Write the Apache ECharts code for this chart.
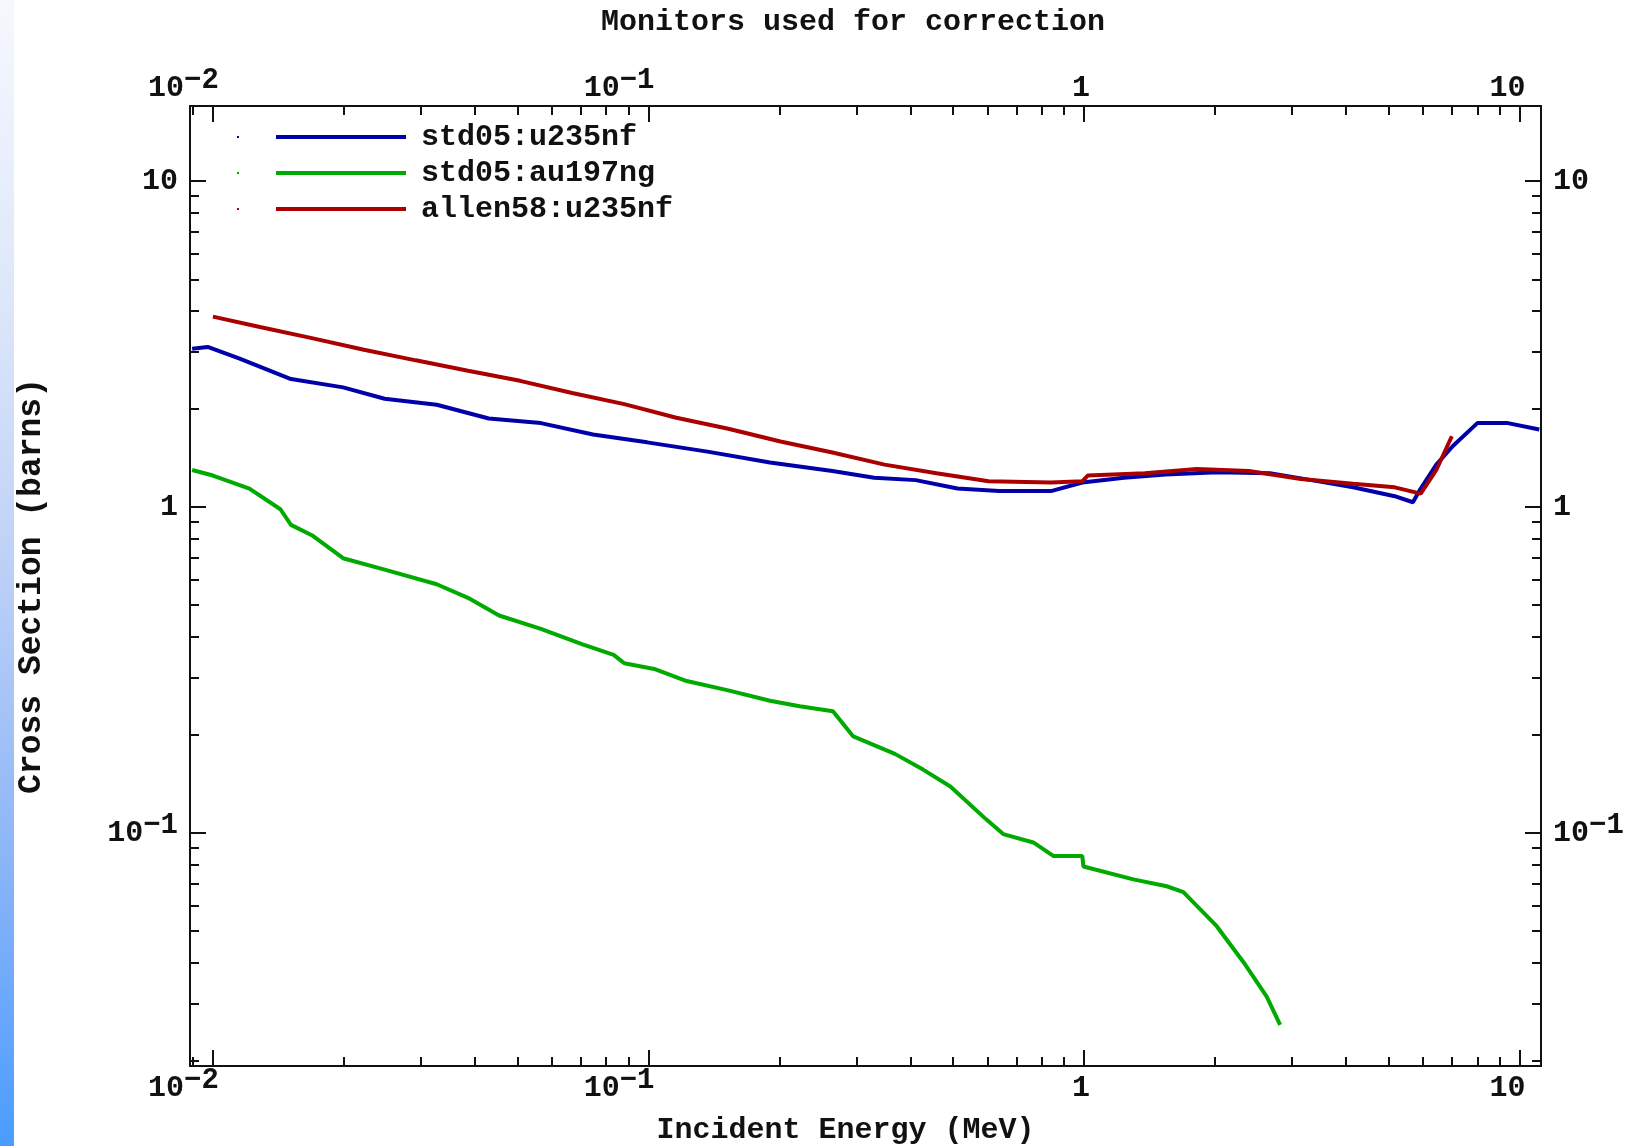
<!DOCTYPE html>
<html>
<head>
<meta charset="utf-8">
<title>Monitors used for correction</title>
<script src="https://cdn.jsdelivr.net/npm/echarts@6/dist/echarts.min.js"></script>
<style>
  html, body { margin: 0; padding: 0; background: #fff; }
  #main { width: 1632px; height: 1146px; }
</style>
</head>
<body>
<div id="main"></div>
<script>
// std05:u235nf
var u235E = [0.00896, 0.00973, 0.01148, 0.01511, 0.0199, 0.02479, 0.03265, 0.043, 0.05662, 0.0746, 0.0993, 0.1366, 0.1901, 0.2645, 0.3297, 0.4109, 0.5121, 0.6382, 0.84, 0.991, 1.235, 1.539, 2.027, 2.67, 3.327, 4.148, 5.169, 5.69, 5.93, 6.44, 7.03, 8.0, 9.4, 11.1]
var u235XS = [3.06, 3.10, 2.86, 2.47, 2.33, 2.15, 2.06, 1.87, 1.81, 1.67, 1.58, 1.48, 1.37, 1.29, 1.23, 1.21, 1.14, 1.12, 1.12, 1.19, 1.23, 1.26, 1.28, 1.27, 1.21, 1.15, 1.08, 1.035, 1.14, 1.35, 1.54, 1.81, 1.81, 1.73]

// std05:au197ng
var au197E = [0.00896, 0.01, 0.01213, 0.01429, 0.01511, 0.01687, 0.0199, 0.02479, 0.03265, 0.03851, 0.0454, 0.05662, 0.0706, 0.0832, 0.088, 0.1038, 0.1224, 0.1525, 0.1901, 0.2225, 0.2652, 0.2953, 0.368, 0.427, 0.4934, 0.597, 0.6524, 0.765, 0.85, 0.991, 0.997, 1.298, 1.549, 1.691, 2.017, 2.326, 2.627, 2.82]
var au197XS = [1.30, 1.25, 1.14, 0.985, 0.882, 0.82, 0.697, 0.643, 0.580, 0.527, 0.465, 0.423, 0.379, 0.352, 0.332, 0.318, 0.2927, 0.274, 0.2546, 0.245, 0.2365, 0.198, 0.175, 0.1566, 0.139, 0.110, 0.0993, 0.0936, 0.0851, 0.0851, 0.079, 0.0721, 0.0687, 0.0659, 0.0518, 0.0401, 0.0315, 0.0258]

// allen58:u235nf
var allenE = [0.01, 0.01282, 0.01687, 0.02222, 0.02924, 0.03851, 0.05072, 0.06681, 0.088, 0.1159, 0.1525, 0.2009, 0.2645, 0.3483, 0.4585, 0.6041, 0.84, 0.991, 1.02, 1.379, 1.816, 2.391, 3.149, 4.148, 5.169, 5.93, 6.44, 6.99]
var allenXS = [3.84, 3.57, 3.30, 3.04, 2.82, 2.62, 2.44, 2.24, 2.07, 1.88, 1.74, 1.59, 1.47, 1.35, 1.27, 1.20, 1.19, 1.20, 1.25, 1.27, 1.31, 1.29, 1.22, 1.18, 1.15, 1.10, 1.30, 1.65]

var seriesNames = ['std05:u235nf', 'std05:au197ng', 'allen58:u235nf']
var seriesColors = ['#0000aa', '#00aa00', '#aa0000']

// ticks
var xMajorTicks = [0.01, 0.1, 1, 10]
var xMajorLabels = [['10', '−2'], ['10', '−1'], ['1', ''], ['10', '']]
var xMinorTicks = [0.009, 0.02, 0.03, 0.04, 0.05, 0.06, 0.07, 0.08, 0.09, 0.2, 0.3, 0.4, 0.5, 0.6, 0.7, 0.8, 0.9, 2, 3, 4, 5, 6, 7, 8, 9]
var yMajorTicks = [0.1, 1, 10]
var yMajorLabels = [['10', '−1'], ['1', ''], ['10', '']]
var yMinorTicks = [0.02, 0.03, 0.04, 0.05, 0.06, 0.07, 0.08, 0.09, 0.2, 0.3, 0.4, 0.5, 0.6, 0.7, 0.8, 0.9, 2, 3, 4, 5, 6, 7, 8, 9]

var xMin = 0.00886, xMax = 11.2
var yMin = 0.0193, yMax = 17.0

var FONT = 'Liberation Mono'
var INK = '#111'

function pairs(xs, ys) {
  return xs.map(function (x, i) { return [x, ys[i]] })
}

function labelFormatter(ticks, labels) {
  return function (v) {
    var idx = -1
    for (var i = 0; i < ticks.length; i++) {
      if (Math.abs(Math.log10(v) - Math.log10(ticks[i])) < 1e-6) idx = i
    }
    if (idx < 0) return ''
    var l = labels[idx]
    return l[1] ? '{b|' + l[0] + '}{s|' + l[1] + '}' : '{b|' + l[0] + '}'
  }
}

// same line height for every label so plain and exponent labels line up
var labelRich = {
  b: { fontFamily: FONT, fontWeight: 'bold', fontSize: 30, color: INK, lineHeight: 44 },
  s: { fontFamily: FONT, fontWeight: 'bold', fontSize: 29, color: INK, lineHeight: 30, padding: [0, 0, 14, 0] },
}

function axis(kind, position, major, extra) {
  var isX = kind === 'x'
  var ticks = major ? (isX ? xMajorTicks : yMajorTicks) : (isX ? xMinorTicks : yMinorTicks)
  var a = {
    type: 'log',
    logBase: 10,
    min: isX ? xMin : yMin,
    max: isX ? xMax : yMax,
    position: position,
    axisLine: { show: true, onZero: false, lineStyle: { color: INK, width: 2 } },
    splitLine: { show: false },
    minorTick: { show: false },
    axisTick: {
      show: true,
      inside: true,
      length: major ? 16 : 9,
      customValues: ticks,
      lineStyle: { color: INK, width: 2 },
    },
    axisLabel: { show: false },
  }
  if (major) {
    a.axisLabel = {
      show: true,
      customValues: ticks,
      formatter: labelFormatter(ticks, isX ? xMajorLabels : yMajorLabels),
      rich: labelRich,
      margin: isX ? (position === 'top' ? -4 : 0) : 12,
    }
    if (isX) {
      a.axisLabel.align = 'right'
      a.axisLabel.padding = [0, -6, 0, 0]
    }
  }
  return Object.assign(a, extra || {})
}

var chart = echarts.init(document.getElementById('main'))
chart.setOption({
  animation: false,
  backgroundColor: '#fff',
  title: {
    text: 'Monitors used for correction',
    left: 596,
    top: 2,
    textStyle: { fontFamily: FONT, fontWeight: 'bold', fontSize: 30, color: INK },
  },
  graphic: [
    {
      type: 'rect',
      left: 0,
      top: 0,
      shape: { width: 14, height: 1146 },
      style: {
        fill: new echarts.graphic.LinearGradient(0, 0, 0, 1, [
          { offset: 0, color: '#f6f8fe' },
          { offset: 0.26, color: '#dde7fa' },
          { offset: 0.5, color: '#bcd0f7' },
          { offset: 0.75, color: '#8cb5f8' },
          { offset: 1, color: '#4a9cff' },
        ]),
      },
      silent: true,
    },
  ],
  legend: {
    orient: 'vertical',
    left: 237,
    top: 122,
    padding: 0,
    itemWidth: 169,
    itemHeight: 4,
    itemGap: 6,
    // small dot, then the line sample
    icon: 'path://M0,1h2v2h-2z M39,0h130v4h-130z',
    data: seriesNames,
    textStyle: { fontFamily: FONT, fontWeight: 'bold', fontSize: 30, color: INK, lineHeight: 30, padding: [0, 0, 0, 10] },
  },
  grid: { left: 190, right: 91, top: 106, bottom: 80, containLabel: false, outerBoundsMode: 'none' },
  xAxis: [
    axis('x', 'bottom', true, {
      name: 'Incident Energy (MeV)',
      nameLocation: 'middle',
      nameGap: 49,
      nameTextStyle: { fontFamily: FONT, fontWeight: 'bold', fontSize: 30, color: INK, padding: [0, 40, 0, 0] },
    }),
    axis('x', 'bottom', false),
    axis('x', 'top', true),
    axis('x', 'top', false),
  ],
  yAxis: [
    axis('y', 'left', true, {
      name: 'Cross Section (barns)',
      nameLocation: 'middle',
      nameGap: 142,
      nameTextStyle: { fontFamily: FONT, fontWeight: 'bold', fontSize: 33, color: INK },
    }),
    axis('y', 'left', false),
    axis('y', 'right', true),
    axis('y', 'right', false),
  ],
  series: [
    {
      name: seriesNames[0],
      type: 'line',
      symbol: 'none',
      color: seriesColors[0],
      lineStyle: { width: 4, color: seriesColors[0] },
      data: pairs(u235E, u235XS),
    },
    {
      name: seriesNames[1],
      type: 'line',
      symbol: 'none',
      color: seriesColors[1],
      lineStyle: { width: 4, color: seriesColors[1] },
      data: pairs(au197E, au197XS),
    },
    {
      name: seriesNames[2],
      type: 'line',
      symbol: 'none',
      color: seriesColors[2],
      lineStyle: { width: 4, color: seriesColors[2] },
      data: pairs(allenE, allenXS),
    },
  ],
})
</script>
</body>
</html>
